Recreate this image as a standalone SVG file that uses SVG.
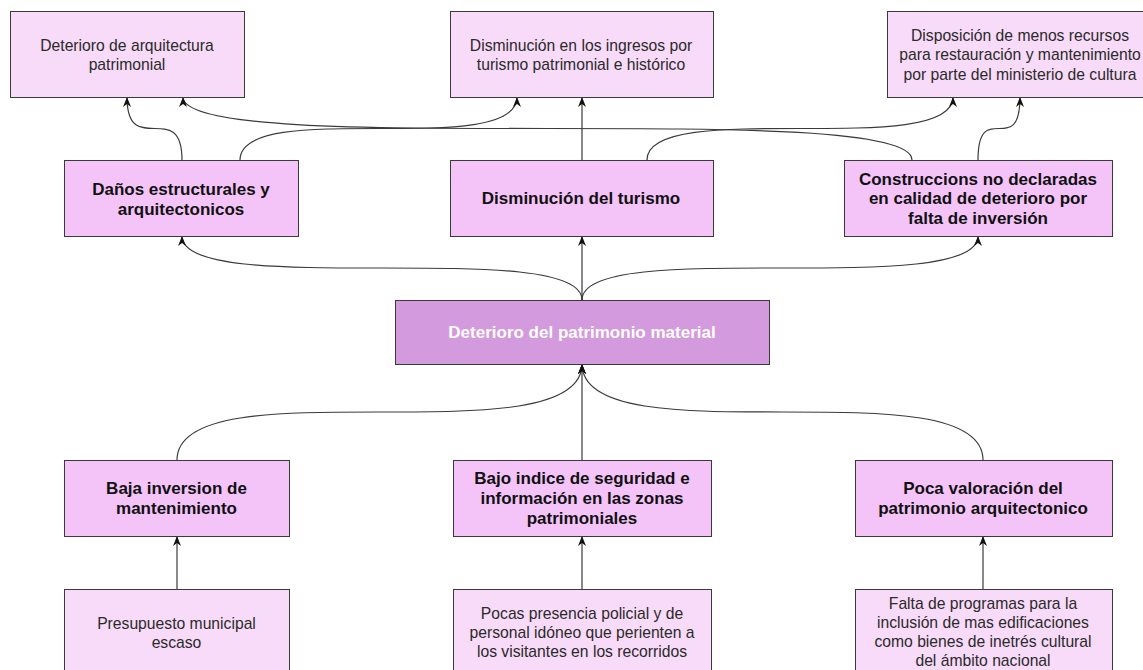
<svg xmlns="http://www.w3.org/2000/svg" width="1143" height="670" viewBox="0 0 1143 670">
<style>
.box{stroke:#3a3a3a;stroke-width:1}
.light{fill:#f8dbf8}
.mid{fill:#f4c4f9}
.main{fill:#d49ade}
.t{font-family:"Liberation Sans",Arial,sans-serif;font-size:15.7px;fill:#2a2a2a;text-anchor:middle}
.b{font-family:"Liberation Sans",Arial,sans-serif;font-size:17px;font-weight:bold;fill:#111;text-anchor:middle}
.w{font-family:"Liberation Sans",Arial,sans-serif;font-size:17px;font-weight:bold;fill:#fff;text-anchor:middle}
.c{fill:none;stroke:#3a3a3a;stroke-width:1.2;marker-end:url(#arr)}
</style>
<defs>
<marker id="arr" markerUnits="userSpaceOnUse" markerWidth="10" markerHeight="8" viewBox="0 0 10 8" refX="10" refY="4" orient="auto">
<path d="M0,0 L10,4 L0,8 L3,4 Z" fill="#111"/>
</marker>
</defs>
<rect width="1143" height="670" fill="#fff"/>
<g id="connectors">
<path class="c" d="M182 160 C182 128.5 168.25 128.5 154.5 128.5 S127 128.5 127 97"/>
<path class="c" d="M240 160 C240 128.5 309.25 128.5 378.5 128.5 S517 128.5 517 97"/>
<path class="c" d="M582 160 L582 97"/>
<path class="c" d="M647 160 C647 128.5 723.5 128.5 800 128.5 S953 128.5 953 97"/>
<path class="c" d="M912 160 C912 128.5 729.75 128.5 547.5 128.5 S183 128.5 183 97"/>
<path class="c" d="M978 160 C978 128.5 988.5 128.5 999 128.5 S1020 128.5 1020 97"/>
<path class="c" d="M582 300 C582 268 482 268 382 268 S182 268 182 236"/>
<path class="c" d="M582 300 L582 236"/>
<path class="c" d="M582 300 C582 268 681 268 780 268 S978 268 978 236"/>
<path class="c" d="M177 460 C177 412 278.25 412 379.5 412 S582 412 582 364"/>
<path class="c" d="M582 460 L582 364"/>
<path class="c" d="M983 460 C983 412 882.75 412 782.5 412 S582 412 582 364"/>
<path class="c" d="M177 589 L177 536"/>
<path class="c" d="M582 589 L582 536"/>
<path class="c" d="M983 589 L983 536"/>
</g>
<g id="efecto1">
<rect class="box light" x="10.5" y="11.5" width="234" height="86"/>
<text class="t" x="127" y="50.5">Deterioro de arquitectura</text>
<text class="t" x="127" y="69.5">patrimonial</text>
</g>
<g id="efecto2">
<rect class="box light" x="450.5" y="11.5" width="263" height="86"/>
<text class="t" x="581" y="50.5">Disminución en los ingresos por</text>
<text class="t" x="581" y="69.5">turismo patrimonial e histórico</text>
</g>
<g id="efecto3">
<rect class="box light" x="887.5" y="11.5" width="268" height="86"/>
<text class="t" x="1020" y="40.5">Disposición de menos recursos</text>
<text class="t" x="1020" y="60">para restauración y mantenimiento</text>
<text class="t" x="1020" y="79.5">por parte del ministerio de cultura</text>
</g>
<g id="danos">
<rect class="box mid" x="64.5" y="160.5" width="234" height="76"/>
<text class="b" x="181" y="194.5">Daños estructurales y</text>
<text class="b" x="181" y="215">arquitectonicos</text>
</g>
<g id="disminucion">
<rect class="box mid" x="450.5" y="160.5" width="263" height="76"/>
<text class="b" x="581" y="204">Disminución del turismo</text>
</g>
<g id="construcciones">
<rect class="box mid" x="844.5" y="160.5" width="268" height="76"/>
<text class="b" x="978" y="184.5">Construccions no declaradas</text>
<text class="b" x="978" y="204">en calidad de deterioro por</text>
<text class="b" x="978" y="223.5">falta de inversión</text>
</g>
<g id="problema">
<rect class="box main" x="395.5" y="300.5" width="374" height="64"/>
<text class="w" x="582" y="338">Deterioro del patrimonio material</text>
</g>
<g id="baja">
<rect class="box mid" x="64.5" y="460.5" width="225" height="76"/>
<text class="b" x="176.5" y="493.5">Baja inversion de</text>
<text class="b" x="176.5" y="514">mantenimiento</text>
</g>
<g id="bajo">
<rect class="box mid" x="453.5" y="460.5" width="258" height="76"/>
<text class="b" x="582" y="483.5">Bajo indice de seguridad e</text>
<text class="b" x="582" y="503.5">información en las zonas</text>
<text class="b" x="582" y="523.5">patrimoniales</text>
</g>
<g id="poca">
<rect class="box mid" x="855.5" y="460.5" width="257" height="76"/>
<text class="b" x="983" y="493.5">Poca valoración del</text>
<text class="b" x="983" y="514">patrimonio arquitectonico</text>
</g>
<g id="presupuesto">
<rect class="box light" x="64.5" y="589.5" width="225" height="90"/>
<text class="t" x="176.5" y="628.5">Presupuesto municipal</text>
<text class="t" x="176.5" y="647.5">escaso</text>
</g>
<g id="pocas">
<rect class="box light" x="453.5" y="589.5" width="258" height="90"/>
<text class="t" x="582" y="618.5">Pocas presencia policial y de</text>
<text class="t" x="582" y="637.5">personal idóneo que perienten a</text>
<text class="t" x="582" y="657">los visitantes en los recorridos</text>
</g>
<g id="falta">
<rect class="box light" x="855.5" y="589.5" width="257" height="90"/>
<text class="t" x="983" y="608.5">Falta de programas para la</text>
<text class="t" x="983" y="627.5">inclusión de mas edificaciones</text>
<text class="t" x="983" y="647">como bienes de inetrés cultural</text>
<text class="t" x="983" y="666">del ámbito nacional</text>
</g>
</svg>
